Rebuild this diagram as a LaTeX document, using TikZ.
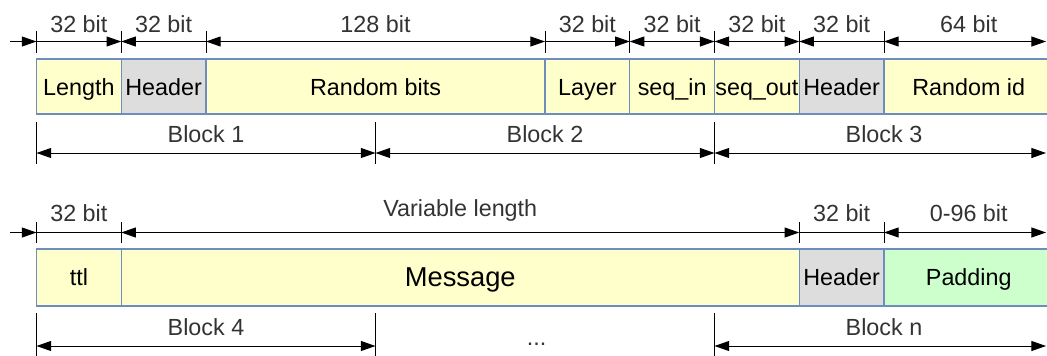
\documentclass[tikz,border=0pt]{standalone}
\usepackage{fontspec}
\setmainfont{Liberation Sans}
\usetikzlibrary{arrows.meta}

\definecolor{boxline}{RGB}{110,140,190}
\definecolor{fieldyellow}{RGB}{255,255,204}
\definecolor{fieldgrey}{RGB}{221,221,221}
\definecolor{fieldgreen}{RGB}{204,255,204}
\definecolor{dimtext}{RGB}{51,51,51}

\tikzset{
  field/.style={draw=boxline, line width=1pt},
  fieldlabel/.style={anchor=base, inner sep=0pt, font=\fontsize{17.5}{20}\selectfont},
  dimlabel/.style={anchor=base, inner sep=0pt, text=dimtext, font=\fontsize{17.5}{20}\selectfont},
  dimline/.style={line width=0.75pt, >={Triangle[length=11pt,width=7.5pt]}},
  tickline/.style={line width=0.75pt},
}

\begin{document}
\begin{tikzpicture}[x=63.5625pt, y=-0.75pt]
\useasboundingbox (-0.4307,0) rectangle (11.9233,355);
\clip (-0.4307,0) rectangle (11.9233,355);

% first packet: fields
\draw[field, fill=fieldyellow] (0,59) rectangle (1,114);
\draw[field, fill=fieldgrey] (1,59) rectangle (2,114);
\draw[field, fill=fieldyellow] (2,59) rectangle (6,114);
\draw[field, fill=fieldyellow] (6,59) rectangle (7,114);
\draw[field, fill=fieldyellow] (7,59) rectangle (8,114);
\draw[field, fill=fieldyellow] (8,59) rectangle (9,114);
\draw[field, fill=fieldgrey] (9,59) rectangle (10,114);
\draw[field, fill=fieldyellow] (10,59) rectangle (12.2,114);
\node[fieldlabel] (length) at (0.5,95) {Length};
\node[fieldlabel] (hdrone) at (1.5,95) {Header};
\node[fieldlabel] (randbits) at (4,95) {Random bits};
\node[fieldlabel] (layer) at (6.5,95) {Layer};
\node[fieldlabel] (seqin) at (7.5,95) {seq\_in};
\node[fieldlabel] (seqout) at (8.5,95) {seq\_out};
\node[fieldlabel] (hdrtwo) at (9.5,95) {Header};
\node[fieldlabel] (randid) at (11,95) {Random id};

% first packet: sizes
\draw[tickline] (0,30.5) -- (0,53);
\draw[tickline] (1,30.5) -- (1,53);
\draw[tickline] (2,30.5) -- (2,53);
\draw[tickline] (6,30.5) -- (6,53);
\draw[tickline] (7,30.5) -- (7,53);
\draw[tickline] (8,30.5) -- (8,53);
\draw[tickline] (9,30.5) -- (9,53);
\draw[tickline] (10,30.5) -- (10,53);
\draw[dimline, ->] (-0.3127,41.5) -- (0,41.5);
\draw[dimline, ->] (0,41.5) -- (1,41.5);
\draw[dimline, <-] (1,41.5) -- (2,41.5);
\draw[dimline, <->] (2,41.5) -- (6,41.5);
\draw[dimline, ->] (6,41.5) -- (7,41.5);
\draw[dimline, <->] (7,41.5) -- (8,41.5);
\draw[dimline, <->] (8,41.5) -- (9,41.5);
\draw[dimline, <-] (9,41.5) -- (10,41.5);
\draw[dimline, <->] (10,41.5) -- (11.912,41.5);
\node[dimlabel] (sz1) at (0.5,32) {32 bit};
\node[dimlabel] (sz2) at (1.5,32) {32 bit};
\node[dimlabel] (sz3) at (4,32) {128 bit};
\node[dimlabel] (sz4) at (6.5,32) {32 bit};
\node[dimlabel] (sz5) at (7.5,32) {32 bit};
\node[dimlabel] (sz6) at (8.5,32) {32 bit};
\node[dimlabel] (sz7) at (9.5,32) {32 bit};
\node[dimlabel] (sz8) at (11,32) {64 bit};

% first packet: blocks
\draw[tickline] (0,122) -- (0,164);
\draw[tickline] (4,122) -- (4,164);
\draw[tickline] (8,122) -- (8,164);
\draw[dimline, <->] (0,153) -- (4,153);
\draw[dimline, <->] (4,153) -- (8,153);
\draw[dimline, <->] (8,153) -- (11.912,153);
\node[dimlabel] (blk1) at (2,142.5) {Block 1};
\node[dimlabel] (blk2) at (6,142.5) {Block 2};
\node[dimlabel] (blk3) at (10,142.5) {Block 3};

% last packet: fields
\draw[field, fill=fieldyellow] (0,249) rectangle (1,306);
\draw[field, fill=fieldyellow] (1,249) rectangle (9,306);
\draw[field, fill=fieldgrey] (9,249) rectangle (10,306);
\draw[field, fill=fieldgreen] (10,249) rectangle (12.2,306);
\node[fieldlabel] (ttl) at (0.5,285.5) {ttl};
\node[fieldlabel, font=\fontsize{20.5}{24}\selectfont] (message) at (5,286.5) {Message};
\node[fieldlabel] (hdrn) at (9.5,285.5) {Header};
\node[fieldlabel] (padding) at (11,285.5) {Padding};

% last packet: sizes
\draw[tickline] (0,222) -- (0,243);
\draw[tickline] (1,222) -- (1,243);
\draw[tickline] (9,222) -- (9,243);
\draw[tickline] (10,222) -- (10,243);
\draw[dimline, ->] (-0.3127,232.5) -- (0,232.5);
\draw[dimline] (0,232.5) -- (1,232.5);
\draw[dimline, <->] (1,232.5) -- (9,232.5);
\draw[dimline] (9,232.5) -- (10,232.5);
\draw[dimline, <->] (10,232.5) -- (11.912,232.5);
\node[dimlabel] (sz9) at (0.5,221.7) {32 bit};
\node[dimlabel] (szvar) at (5,216.7) {Variable length};
\node[dimlabel] (sz10) at (9.5,221.7) {32 bit};
\node[dimlabel] (sz11) at (11,221.7) {0-96 bit};

% last packet: blocks
\draw[tickline] (0,313) -- (0,356);
\draw[tickline] (4,313) -- (4,356);
\draw[tickline] (8,313) -- (8,356);
\draw[dimline, <->] (0,346) -- (4,346);
\draw[dimline, <->] (8,346) -- (11.912,346);
\node[dimlabel] (blk4) at (2,335) {Block 4};
\node[dimlabel] (blkdots) at (5.9,345) {...};
\node[dimlabel] (blkn) at (10,335) {Block n};
\end{tikzpicture}
\end{document}
